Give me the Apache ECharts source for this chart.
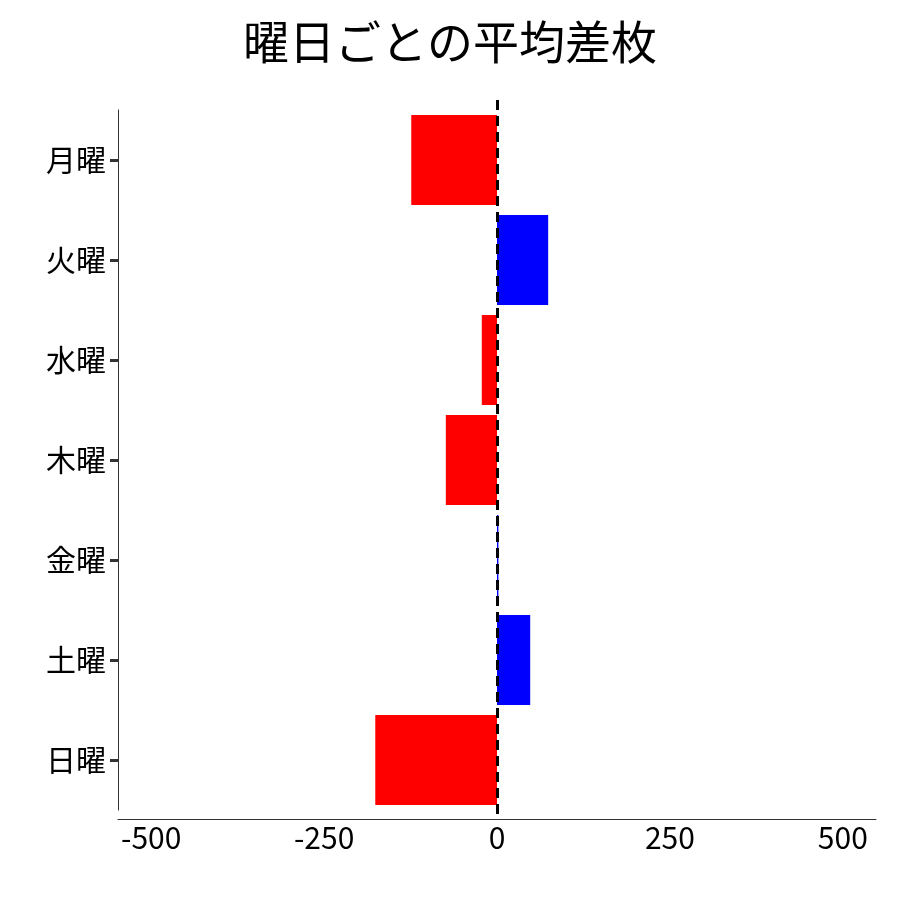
<!DOCTYPE html>
<html><head><meta charset="utf-8">
<script src="https://cdn.jsdelivr.net/npm/echarts@6/dist/echarts.min.js"></script>
<style>html,body{margin:0;padding:0}#c{width:900px;height:900px}</style>
</head><body><div id="c"></div>
<script>
const categories = ['月曜','火曜','水曜','木曜','金曜','土曜','日曜'];
const values = [-124, 74, -22, -74, 2, 48, -176];
const tickValues = [-500, -250, 0, 250, 500];
const chart = echarts.init(document.getElementById('c'));
const F = '"Noto Sans CJK JP", "Noto Sans", sans-serif';
chart.setOption({
  animation: false,
  backgroundColor: '#fff',
  title: {text: '曜日ごとの平均差枚', left: 'center', top: 14,
    textStyle: {fontFamily: F, fontSize: 46, fontWeight: 'normal', color: '#000'}},
  grid: {left: 118, right: 24, top: 110, bottom: 90},
  xAxis: {type: 'value', min: -548, max: 548, offset: 9,
    axisLine: {show: true, lineStyle: {color: '#333', width: 1}},
    axisTick: {show: false},
    axisLabel: {customValues: tickValues, fontFamily: F, fontSize: 30, color: '#000', margin: 4},
    splitLine: {show: false}},
  yAxis: {type: 'category', data: categories, inverse: true,
    axisLine: {show: true, onZero: false, lineStyle: {color: '#333', width: 1}},
    axisTick: {show: true, alignWithLabel: true, length: 8, lineStyle: {color: '#333', width: 3}},
    axisLabel: {fontFamily: F, fontSize: 30, color: '#000', margin: 12}},
  series: [{type: 'bar', barCategoryGap: '10%',
    data: values.map(v => ({value: v, itemStyle: {color: v < 0 ? '#ff0000' : '#0000ff'}})),
    markLine: {symbol: 'none', silent: true, label: {show: false},
      lineStyle: {color: '#000', type: [10, 6], width: 3},
      data: [[{xAxis: 0, y: 100}, {xAxis: 0, y: 819}]]}}]
});
</script></body></html>
